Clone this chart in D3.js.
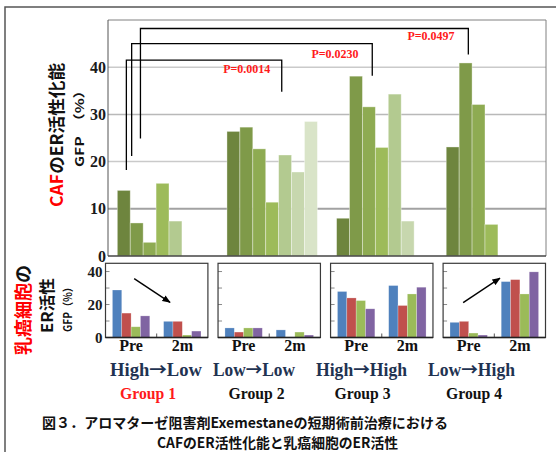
<!DOCTYPE html>
<html><head><meta charset="utf-8">
<script src="https://cdn.jsdelivr.net/npm/d3@7"></script>
<style>body{margin:0;background:#fff}svg{display:block}</style>
</head><body>
<svg id="c" width="556" height="452"></svg>
<script>
// ---------- data ----------
const groups = ["Group 1", "Group 2", "Group 3", "Group 4"];
const transitions = ["High→Low", "Low→Low", "High→High", "Low→High"];
// CAF ER activating capacity, GFP (%) — one bar per case
const cafG1 = [13.9, 7.0, 2.9, 15.4, 7.4];
const cafG2 = [26.4, 27.3, 22.7, 11.4, 21.4, 17.8, 28.5];
const cafG3 = [8.0, 38.1, 31.6, 23.0, 34.3, 7.4];
const cafG4 = [23.1, 40.9, 32.1, 6.7];
const cafTicks = [0, 10, 20, 30, 40];
// Cancer-cell ER activity, GFP (%) — 4 series per time point
const timepoints = ["Pre", "2m"];
const cellSeries = ["s1", "s2", "s3", "s4"];
const g1Pre = [28.8, 14.8, 6.5, 13.1], g1Post = [9.8, 9.8, 1.5, 3.9];
const g2Pre = [5.8, 3.3, 5.8, 5.8],   g2Post = [4.6, 0, 3.3, 1.5];
const g3Pre = [27.9, 24.0, 22.4, 17.4], g3Post = [31.5, 19.4, 26.4, 30.5];
const g4Pre = [9.2, 9.8, 2.7, 1.5],   g4Post = [33.9, 35.1, 26.4, 39.8];
const cellTicks = [0, 10, 20, 30, 40];
const cellTickLabels = [0, 20, 40];
// significance brackets (Group 1 vs others)
const pLabels = ["P=0.0014", "P=0.0230", "P=0.0497"];
const bracketTargets = ["Group 2", "Group 3", "Group 4"];

const cafData = [cafG1, cafG2, cafG3, cafG4];
const cellData = [[g1Pre, g1Post], [g2Pre, g2Post], [g3Pre, g3Post], [g4Pre, g4Post]];

// ---------- styles / layout ----------
const greens = ["#6e853e", "#7f9a49", "#8eab52", "#9dbb5a", "#b3ca90", "#c7d7ae", "#d9e4c8"];
const cellColors = ["#4f81bd", "#c0504d", "#9bbb59", "#8064a2"];
const serif = "'Liberation Serif','Times New Roman',serif";
const jp = "'Noto Sans CJK JP','Noto Sans',sans-serif";
const transWidths = [92, 82, 91, 87];
const groupLabelX = [148, 256.5, 362.5, 474];
const transLabelX = [156, 254, 361.5, 471.5];

const bracketCfg = [
  {fromSlot: 0.70, toSlot: 4.24, top: 41.5, leftEnd: 18.2, rightEnd: 34.8, labelSlot: 1.53, labelY: 38.8},
  {fromSlot: 1.11, toSlot: 2.76, top: 45.0, leftEnd: 21.2, rightEnd: 38.2, labelSlot: -0.12, labelY: 41.9},
  {fromSlot: 1.79, toSlot: 1.71, top: 48.2, leftEnd: 24.9, rightEnd: 42.7, labelSlot: -1.18, labelY: 45.8}
];
const arrowCfg = [
  {panel: 0, x1: 0.28, y1: 35.7, x2: 0.63, y2: 21.3},
  {panel: 3, x1: 0.196, y1: 21.2, x2: 0.555, y2: 36.0}
];

const svg = d3.select("#c");
svg.append("rect").attr("width", 556).attr("height", 452).attr("fill", "#fff");

svg.append("path").attr("d", "M5,460 L5,7 L560,7").attr("fill", "none")
  .attr("stroke", "#555").attr("stroke-width", 1.5);

// ---------- top chart ----------
const plot = {l: 108, r: 546, t: 20, b: 256};
const y = d3.scaleLinear().domain([0, 50]).range([plot.b, plot.t]);
const xg = d3.scaleBand().domain(groups).range([plot.l, plot.r]).paddingInner(0.175).paddingOuter(0.085);
const xslot = d3.scaleBand().domain(d3.range(7)).range([0, xg.bandwidth()]);
const slotX = (g, s) => xg(g) + s * xslot.step();

const gridStyle = {10: ["#a2a2a2", 2], 20: ["#cacaca", 1.5], 30: ["#b9b9b9", 1.5], 40: ["#cacaca", 1.5]};
svg.append("g").selectAll("line").data(cafTicks.filter(d => d > 0)).join("line")
  .attr("x1", plot.l).attr("x2", plot.r).attr("y1", d => y(d)).attr("y2", d => y(d))
  .attr("stroke", d => gridStyle[d][0]).attr("stroke-width", d => gridStyle[d][1]);

svg.append("path").attr("d", `M${plot.l},${plot.t} L${plot.r},${plot.t} L${plot.r},${plot.b}`)
  .attr("fill", "none").attr("stroke", "#808080").attr("stroke-width", 1);

groups.forEach((g, gi) => {
  svg.append("g").selectAll("rect").data(cafData[gi]).join("rect")
    .attr("x", (d, i) => xg(g) + xslot(i))
    .attr("width", xslot.bandwidth())
    .attr("y", d => y(d))
    .attr("height", d => y(0) - y(d))
    .attr("fill", (d, i) => greens[i])
    .attr("stroke", "rgba(255,255,255,0.45)").attr("stroke-width", 0.8);
});

svg.append("line").attr("x1", plot.l).attr("x2", plot.l).attr("y1", plot.t).attr("y2", plot.b)
  .attr("stroke", "#555").attr("stroke-width", 1);
svg.append("line").attr("x1", plot.l).attr("x2", plot.r).attr("y1", plot.b).attr("y2", plot.b)
  .attr("stroke", "#444").attr("stroke-width", 1.5);

svg.append("g").selectAll("text").data(cafTicks).join("text")
  .attr("x", plot.l - 2).attr("y", d => y(d) + 5.5)
  .attr("text-anchor", "end").attr("font-family", serif).attr("font-weight", "bold")
  .attr("font-size", 16).attr("fill", "#1a1a1a").text(d => d);

bracketCfg.forEach((b, i) => {
  const x1 = slotX(groups[0], b.fromSlot), x2 = slotX(bracketTargets[i], b.toSlot);
  svg.append("path")
    .attr("d", `M${x1},${y(b.leftEnd)} L${x1},${y(b.top)} L${x2},${y(b.top)} L${x2},${y(b.rightEnd)}`)
    .attr("fill", "none").attr("stroke", "#000").attr("stroke-width", 1.3);
  svg.append("text").attr("x", slotX(bracketTargets[i], b.labelSlot)).attr("y", y(b.labelY))
    .attr("text-anchor", "middle").attr("font-family", serif).attr("font-weight", "bold")
    .attr("font-size", 12).attr("fill", "#ff1a1a").text(pLabels[i]);
});

const t1 = svg.append("text").attr("transform", "translate(63,135) rotate(-90)")
  .attr("text-anchor", "middle").attr("font-family", jp).attr("font-weight", "bold")
  .attr("font-size", 17).attr("textLength", 144).attr("lengthAdjust", "spacingAndGlyphs");
t1.append("tspan").attr("fill", "#ff0000").text("CAF");
t1.append("tspan").attr("fill", "#111").text("のER活性化能");
svg.append("text").attr("transform", "translate(84,125) rotate(-90)")
  .attr("text-anchor", "middle").attr("font-family", jp).attr("font-weight", "bold")
  .attr("font-size", 12).attr("fill", "#111")
  .attr("textLength", 84).attr("lengthAdjust", "spacingAndGlyphs").text("GFP　（%）");

// ---------- bottom panels ----------
const pnl = {t: 263.3, b: 337.5};
const xp = d3.scaleBand().domain(groups).range([105.5, 545.5]).paddingInner(0.09);
const yp = d3.scaleLinear().domain([0, 45]).range([pnl.b, pnl.t]);
const xt = d3.scaleBand().domain(timepoints).range([0, xp.bandwidth()]).paddingInner(0.27).paddingOuter(0.135);
const xs = d3.scaleBand().domain(cellSeries).range([0, xt.bandwidth()]);

groups.forEach((g, gi) => {
  const gp = svg.append("g").attr("transform", `translate(${xp(g)},0)`);
  const w = xp.bandwidth();
  gp.append("g").selectAll("line").data(cellTicks.filter(d => d > 0)).join("line")
    .attr("x1", 0).attr("x2", 4).attr("y1", d => yp(d)).attr("y2", d => yp(d))
    .attr("stroke", "#8a8a8a").attr("stroke-width", 1);
  timepoints.forEach((tp, ti) => {
    gp.append("g").selectAll("rect").data(cellData[gi][ti]).join("rect")
      .attr("x", (d, i) => xt(tp) + xs(cellSeries[i]))
      .attr("width", xs.bandwidth())
      .attr("y", d => yp(d)).attr("height", d => yp(0) - yp(d))
      .attr("fill", (d, i) => cellColors[i])
      .attr("stroke", "rgba(255,255,255,0.4)").attr("stroke-width", 0.6);
    gp.append("text").attr("x", xt(tp) + xt.bandwidth() / 2).attr("y", 351)
      .attr("text-anchor", "middle").attr("font-family", serif).attr("font-weight", "bold")
      .attr("font-size", 16).attr("fill", "#111").text(tp);
  });
  gp.append("line").attr("x1", w / 2).attr("x2", w / 2).attr("y1", pnl.b).attr("y2", pnl.b - 4)
    .attr("stroke", "#555").attr("stroke-width", 1);
  gp.append("rect").attr("x", 0).attr("y", pnl.t).attr("width", w).attr("height", pnl.b - pnl.t)
    .attr("fill", "none").attr("stroke", "#3a3a3a").attr("stroke-width", 1.2);
  gp.append("line").attr("x1", 0).attr("x2", w).attr("y1", pnl.b).attr("y2", pnl.b)
    .attr("stroke", "#222").attr("stroke-width", 1.6);
});

svg.append("g").selectAll("text").data(cellTickLabels).join("text")
  .attr("x", xp(groups[0]) - 3).attr("y", d => yp(d) + 5)
  .attr("text-anchor", "end").attr("font-family", serif).attr("font-weight", "bold")
  .attr("font-size", 15).attr("fill", "#1a1a1a").text(d => d);

svg.append("defs").append("marker").attr("id", "ah").attr("viewBox", "0 0 10 10")
  .attr("refX", 9).attr("refY", 5).attr("markerWidth", 6).attr("markerHeight", 6)
  .attr("orient", "auto").append("path").attr("d", "M0,1 L10,5 L0,9 Z").attr("fill", "#000");
arrowCfg.forEach(a => {
  const g = groups[a.panel], w = xp.bandwidth();
  svg.append("line")
    .attr("x1", xp(g) + a.x1 * w).attr("y1", yp(a.y1))
    .attr("x2", xp(g) + a.x2 * w).attr("y2", yp(a.y2))
    .attr("stroke", "#000").attr("stroke-width", 1.4).attr("marker-end", "url(#ah)");
});

const t2 = svg.append("text").attr("transform", "translate(30,310) rotate(-90)")
  .attr("text-anchor", "middle").attr("font-family", jp).attr("font-weight", "bold")
  .attr("font-size", 18).attr("textLength", 90).attr("lengthAdjust", "spacingAndGlyphs");
t2.append("tspan").attr("fill", "#ff0000").text("乳癌細胞");
t2.append("tspan").attr("fill", "#111").text("の");
svg.append("text").attr("transform", "translate(53,305.5) rotate(-90)")
  .attr("text-anchor", "middle").attr("font-family", jp).attr("font-weight", "bold")
  .attr("font-size", 16).attr("fill", "#111")
  .attr("textLength", 55).attr("lengthAdjust", "spacingAndGlyphs").text("ER活性");
svg.append("text").attr("transform", "translate(72,307) rotate(-90)")
  .attr("text-anchor", "middle").attr("font-family", jp).attr("font-weight", "bold")
  .attr("font-size", 11).attr("fill", "#111")
  .attr("textLength", 50).attr("lengthAdjust", "spacingAndGlyphs").text("GFP（%）");

// transition labels: arrow drawn with a CJK font (wide arrow)
transitions.forEach((t, i) => {
  const [a, b] = t.split("→");
  const tx = svg.append("text").attr("x", transLabelX[i] - transWidths[i] / 2).attr("y", 376)
    .attr("font-family", serif).attr("font-weight", "bold")
    .attr("font-size", 18).attr("fill", "#1f3352")
    .attr("textLength", transWidths[i]).attr("lengthAdjust", "spacingAndGlyphs");
  tx.append("tspan").text(a);
  tx.append("tspan").attr("font-family", jp).attr("font-size", 17).text("→");
  tx.append("tspan").text(b);
});
svg.append("g").selectAll("text").data(groups).join("text")
  .attr("x", (d, i) => groupLabelX[i] - 28).attr("y", 399)
  .attr("font-family", serif).attr("font-weight", "bold")
  .attr("font-size", 16).attr("fill", (d, i) => i === 0 ? "#ff1a1a" : "#111")
  .attr("textLength", 56).attr("lengthAdjust", "spacingAndGlyphs").text(d => d);

svg.append("text").attr("x", 42).attr("y", 428)
  .attr("font-family", jp).attr("font-weight", "bold").attr("font-size", 14).attr("fill", "#111")
  .attr("textLength", 406).attr("lengthAdjust", "spacingAndGlyphs")
  .text("図３．アロマターゼ阻害剤Exemestaneの短期術前治療における");
svg.append("text").attr("x", 157).attr("y", 448)
  .attr("font-family", jp).attr("font-weight", "bold").attr("font-size", 14).attr("fill", "#111")
  .attr("textLength", 241).attr("lengthAdjust", "spacingAndGlyphs")
  .text("CAFのER活性化能と乳癌細胞のER活性");
</script>
</body></html>
